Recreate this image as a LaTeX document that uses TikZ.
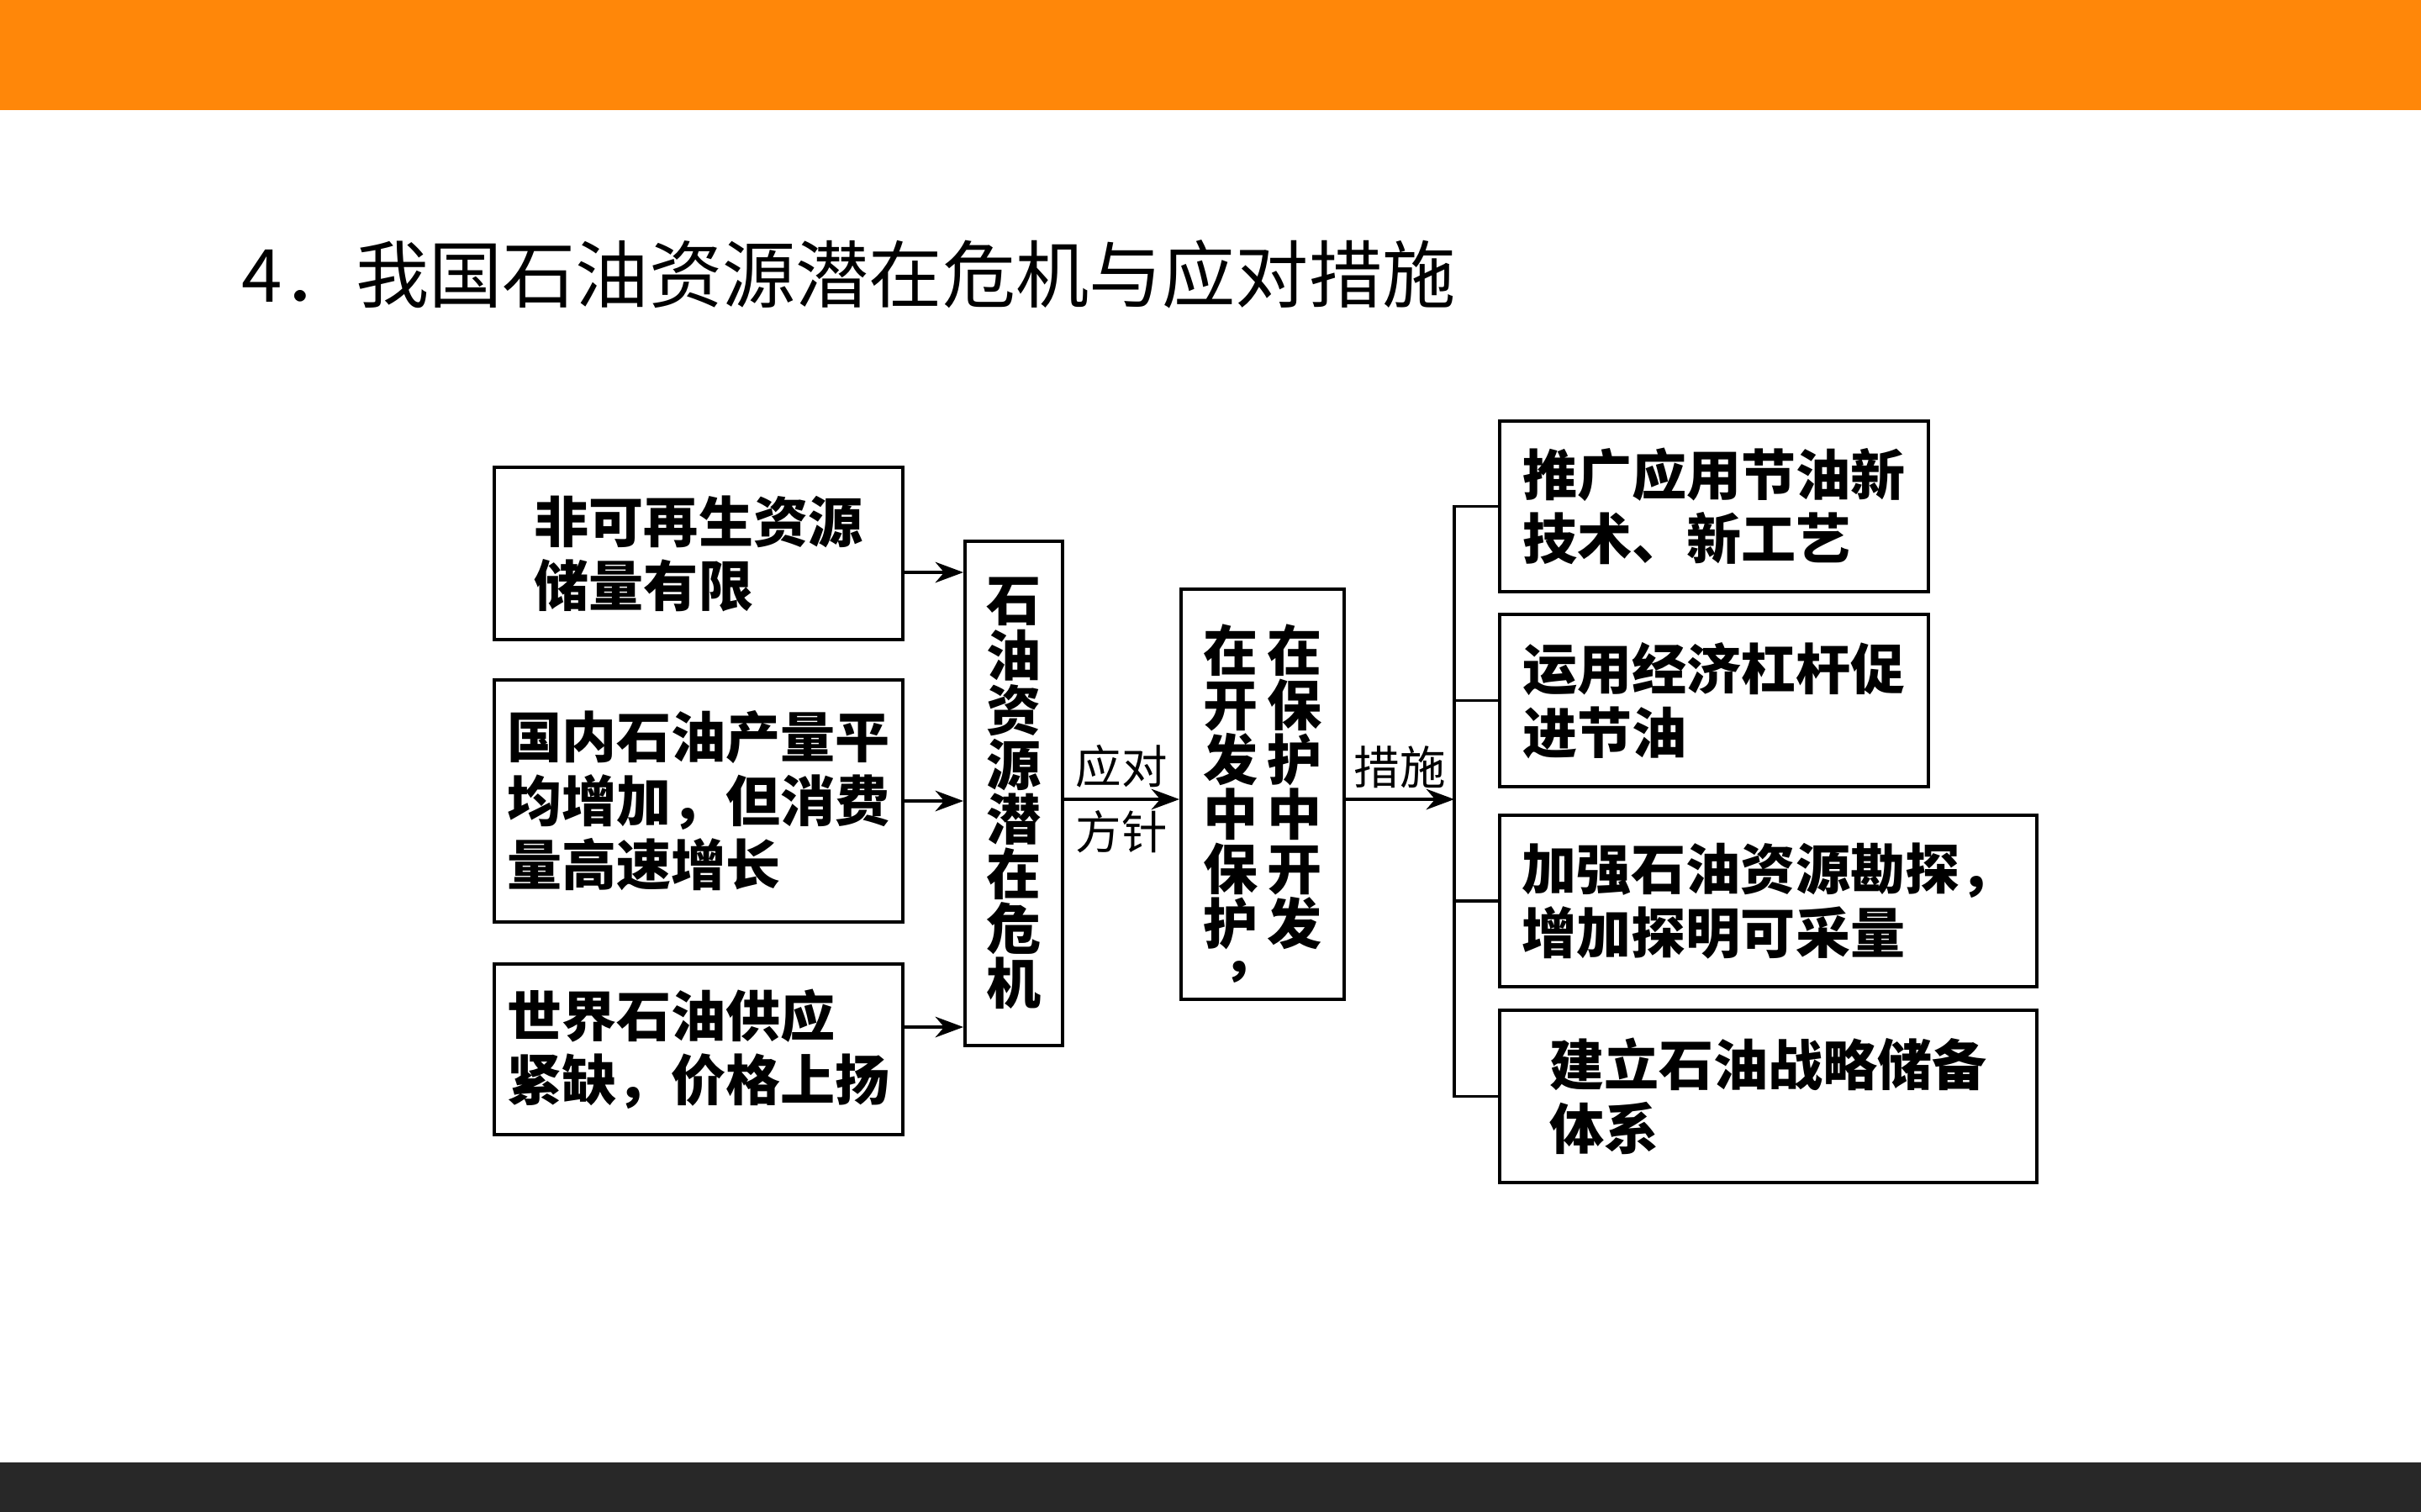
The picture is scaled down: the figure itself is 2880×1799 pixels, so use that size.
\documentclass[tikz,border=0pt]{standalone}
\usepackage{fontspec}
\setmainfont{Noto Sans CJK SC}
\usepackage{tikz}
\usetikzlibrary{arrows.meta}
\definecolor{bandorange}{HTML}{FF8709}
\definecolor{banddark}{HTML}{282828}

\begin{document}
\begin{tikzpicture}[x=0.01cm,y=-0.01cm,
    box/.style={draw,line width=1.1pt,inner sep=0pt,align=left,
      font=\fontsize{18.5}{21.6}\selectfont\bfseries},
    vbox/.style={draw,line width=1.1pt,inner sep=0pt,align=center,
      font=\fontsize{18.5}{18.5}\selectfont\bfseries},
    conn/.style={line width=1pt},
    arr/.style={conn,-{Stealth[length=9.5pt,width=7pt,inset=3pt]}},
    lbl/.style={font=\fontsize{15.5}{17}\selectfont}]
        \useasboundingbox (0,0) rectangle (2880,1799);

        % 上下色条
        \fill[bandorange] (0,0) rectangle (2880,131);
        \fill[banddark] (0,1740) rectangle (2880,1799);

        % 标题
        \node[anchor=west,inner sep=0pt,font=\fontsize{24.8}{28}\selectfont] (title) at (287,326)
          {4．我国石油资源潜在危机与应对措施};

        % --- 左侧 ---
        \node[box,minimum width=4.86cm,minimum height=2.05cm] (b1) at (831,658.5)
          {非可再生资源\\储量有限};
        \node[box,minimum width=4.86cm,minimum height=2.87cm] (b2) at (831,953)
          {国内石油产量平\\均增加，但消费\\量高速增长};
        \node[box,minimum width=4.86cm,minimum height=2.03cm] (b3) at (831,1248.5)
          {世界石油供应\\紧缺，价格上扬};

        % 竖排框
        \node[vbox,minimum width=1.16cm,minimum height=6cm] (crisis) at (1206,944)
          {石\\油\\资\\源\\潜\\在\\危\\机};
        \node[vbox,minimum width=1.94cm,minimum height=4.86cm] (mid) at (1502,945)
          {\parbox[t]{1em}{\centering 在\\开\\发\\中\\保\\护\\\makebox[1em][l]{\kern0.35em\raisebox{0.45em}{，}}}%
           \hspace{0.11cm}%
           \parbox[t]{1em}{\centering\rule{0pt}{1.5em}在\\保\\护\\中\\开\\发}};

        % --- 右侧 ---
        \node[box,minimum width=5.10cm,minimum height=2.03cm] (r1) at (2039,602.5)
          {推广应用节油新\\技术、新工艺};
        \node[box,minimum width=5.10cm,minimum height=2.05cm] (r2) at (2039,833.5)
          {运用经济杠杆促\\进节油};
        \node[box,minimum width=6.39cm,minimum height=2.04cm] (r3) at (2103.5,1072)
          {加强石油资源勘探，\\增加探明可采量};
        \node[box,minimum width=6.39cm,minimum height=2.05cm] (r4) at (2103.5,1304.5)
          {建立石油战略储备\\体系};

        % 箭头
        \draw[arr] (b1.east |- 0,681) -- (crisis.west |- 0,681);
        \draw[arr] (b2.east |- 0,953) -- (crisis.west |- 0,953);
        \draw[arr] (b3.east |- 0,1222) -- (crisis.west |- 0,1222);
        \draw[arr] (crisis.east |- 0,951) -- (mid.west |- 0,951)
          node[midway,above,lbl]{应对} node[midway,below,lbl]{方针};

        % 分支线
        \coordinate (br) at (1730,951);
        \draw[arr] (mid.east |- br) -- (br) node[midway,above,lbl]{措施};
        \draw[conn] (r1.west) -- (r1.west -| br) -- (r4.west -| br) -- (r4.west);
        \foreach \r in {r2,r3}
          \draw[conn] (\r.west) -- (\r.west -| br);
      \end{tikzpicture}
\end{document}
